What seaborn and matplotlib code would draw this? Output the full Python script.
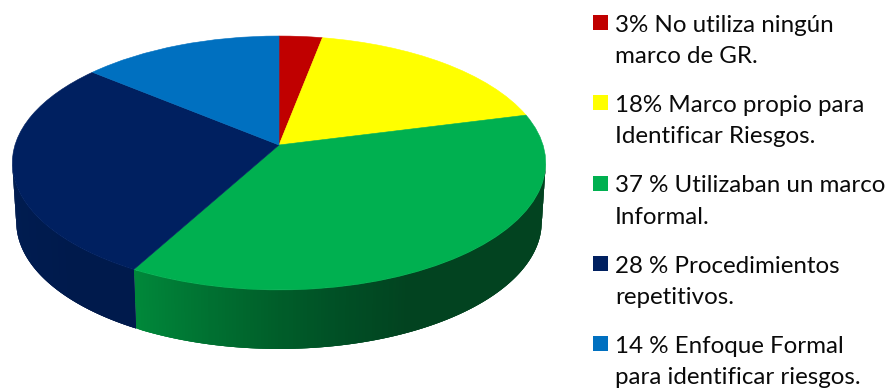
import numpy as np
import matplotlib
matplotlib.use("Agg")
import matplotlib.pyplot as plt
import seaborn as sns
from matplotlib.collections import PolyCollection
from matplotlib.patches import Rectangle
from matplotlib.path import Path
from matplotlib.transforms import Transform

# Survey shares, clockwise from twelve o'clock
shares = [3, 18, 37, 28, 14]
first_lines = ["3% No utiliza ningún", "18% Marco propio para", "37 % Utilizaban un marco",
               "28 % Procedimientos", "14 % Enfoque Formal"]
second_lines = ["marco de GR.", "Identificar Riesgos.", "Informal.",
                "repetitivos.", "para identificar riesgos."]
top_colors = ["#C00000", "#FFFF00", "#00B050", "#002060", "#0070C0"]

# The wall of each slice shades from its left to its right
wall_ramps = [
    ["#8F0000", "#700000"],
    ["#BFBF00", "#A0A000"],
    ["#00873A", "#007232", "#005F2A", "#004F25", "#024320", "#024320", "#024320"],
    ["#001C50", "#001A4C", "#001A4C"],
    ["#005490", "#004A80"],
]

CX, CY = 279.0, 145.0      # pixel position of the pie's apex
RX, RY = 264.0, 124.4      # radii of the disc
TILT = 0.1416              # foreshortening of the far edge
DEPTH, WALL_SCALE = 59.0, 0.985


def project(u, v):
    w = 1 + TILT * np.asarray(v)
    return CX + RX * np.asarray(u) / w, CY - RY * np.asarray(v) / w


class DiscProjection(Transform):
    """Maps the unit-circle pie onto the tilted disc in pixel coordinates."""
    input_dims = output_dims = 2
    is_affine = False

    def transform_non_affine(self, values):
        xy = np.asarray(values, dtype=float)
        return np.column_stack(project(xy[:, 0], xy[:, 1]))

    def transform_path_non_affine(self, path):
        return Path(self.transform_non_affine(path.vertices), path.codes)


sns.set_theme(style="white")
plt.rcParams["font.family"] = ["Lato", "DejaVu Sans"]

fig = plt.figure(figsize=(8.88, 3.91), dpi=100)
ax = fig.add_axes([0, 0, 1, 1])
palette = sns.color_palette(top_colors)

wedges, _ = ax.pie(shares, colors=palette, startangle=90, counterclock=False, radius=1)
ax.set_aspect("auto")
ax.set_xlim(0, 888)
ax.set_ylim(391, 0)
ax.axis("off")

projection = DiscProjection() + ax.transData
for wedge in wedges:
    wedge.set_transform(projection)
    wedge.set_edgecolor(wedge.get_facecolor())
    wedge.set_linewidth(0.4)
    wedge.set_zorder(3)

# Side wall of the slices facing the viewer; every strip runs under the next to hide seams
for wedge, ramp in zip(wedges, wall_ramps):
    theta = np.radians(np.linspace(wedge.theta1, wedge.theta2, 200))
    theta = theta[np.sin(theta) <= -TILT]
    if theta.size < 4:
        continue
    xt, yt = project(np.cos(theta), np.sin(theta))
    if xt[0] > xt[-1]:
        xt, yt = xt[::-1], yt[::-1]
    xb, yb = CX + (xt - CX) * WALL_SCALE, yt + DEPTH
    quads = []
    for i in range(xt.size - 1):
        j = min(i + 3, xt.size - 1)
        quads.append(list(zip(xt[i:j + 1], yt[i:j + 1])) + list(zip(xb[i:j + 1], yb[i:j + 1]))[::-1])
    cmap = sns.blend_palette(ramp, as_cmap=True)
    left = xt[:-1]
    shade = cmap((left - left.min()) / max(np.ptp(left), 1))
    ax.add_collection(PolyCollection(quads, facecolors=shade, edgecolors="none",
                                     linewidths=0, zorder=2))

# Key: a colour square and two lines of text per slice
for i, (color, line1, line2) in enumerate(zip(palette, first_lines, second_lines)):
    base = 32 + i * 80.25
    ax.add_patch(Rectangle((593, base - 17), 15, 15, facecolor=color, edgecolor="none"))
    ax.text(615, base, line1, fontsize=17.4, color="#0A0A0A", va="baseline", ha="left")
    ax.text(615, base + 31, line2, fontsize=17.4, color="#0A0A0A", va="baseline", ha="left")

fig.savefig("out.png", dpi=100, facecolor="white")
